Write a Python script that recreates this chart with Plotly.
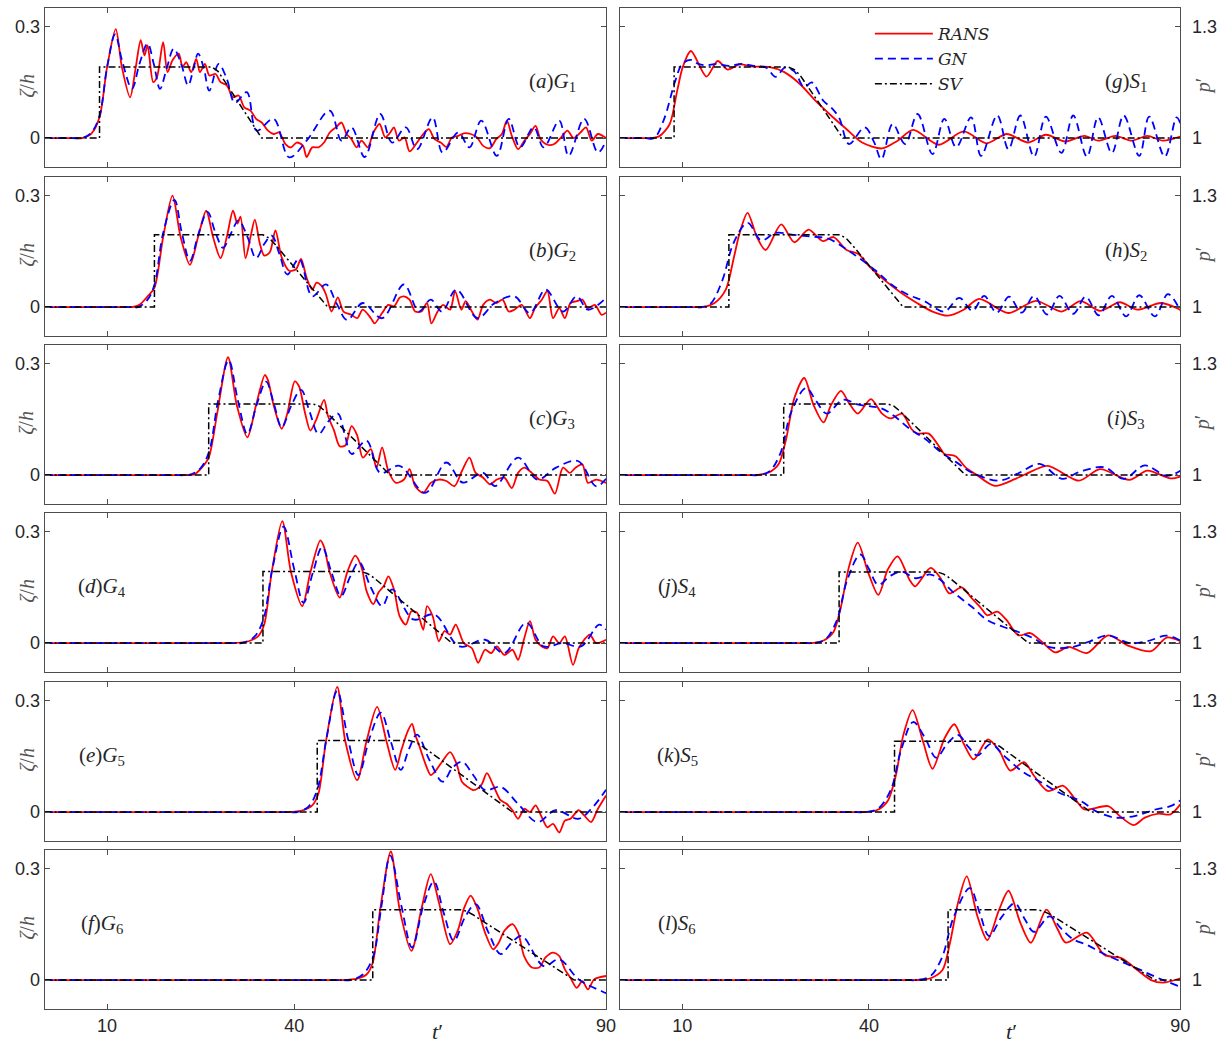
import plotly.graph_objects as go

# ---------------------------------------------------------------------------
# Time series (t', value).  G = free-surface elevation zeta/h, S = pressure p'
# ---------------------------------------------------------------------------

G1_RANS = [(0, 0), (4.5, 0), (6.0, 0.0), (7.5, 0.012), (8.8, 0.056), (10.0, 0.19), (11.4, 0.294), (12.4, 0.19),
           (13.7, 0.110), (14.6, 0.19), (15.4, 0.264), (16.0, 0.223), (16.5, 0.25), (17.4, 0.151),
           (18.0, 0.164), (19.0, 0.259), (19.7, 0.178), (20.5, 0.21), (21.5, 0.228), (22.1, 0.192),
           (22.7, 0.205), (23.5, 0.178), (24.3, 0.214), (24.9, 0.178), (25.7, 0.20), (26.4, 0.169),
           (27.4, 0.173), (28.2, 0.151), (29.2, 0.142), (30.2, 0.11), (31.1, 0.115), (32.0, 0.083),
           (33.0, 0.074), (33.9, 0.052), (34.8, 0.042), (35.8, 0.02), (36.7, 0.011), (37.6, 0.015),
           (38.6, -0.016), (39.5, -0.025), (40.4, -0.012), (41.4, -0.02), (42.0, -0.051), (42.9, -0.025),
           (43.9, -0.025), (44.8, -0.012), (45.7, 0.015), (46.7, 0.029), (47.6, 0.042), (48.4, 0.011),
           (49.2, -0.003), (50.0, -0.025), (50.8, -0.007), (51.8, -0.025), (52.7, 0.015), (53.7, 0.038),
           (54.6, 0.002), (55.4, 0.015), (56.0, 0.029), (56.8, -0.007), (57.7, 0.002), (58.5, -0.036),
           (59.7, -0.012), (60.7, 0.011), (61.6, 0.024), (62.5, -0.003), (63.5, -0.012), (64.4, -0.024),
           (65.3, 0.002), (66.3, 0.006), (67.2, 0.013), (68.3, 0.011), (69.3, 0.002), (70.3, -0.021),
           (71.4, -0.027), (72.4, -0.003), (73.3, 0.011), (74.1, 0.047), (74.9, 0.006), (75.9, -0.03),
           (76.9, -0.007), (77.8, 0.011), (78.7, 0.033), (79.5, -0.003), (80.6, -0.018), (81.7, -0.016),
           (82.8, 0.002), (83.8, 0.02), (84.8, 0.0), (85.9, 0.015), (86.8, 0.029), (87.7, -0.007),
           (88.7, 0.011), (90.0, 0.0)]
G1_GN = [(0, 0), (4.5, 0), (6.0, 0.0), (7.5, 0.015), (8.8, 0.06), (10.0, 0.19), (11.3, 0.28), (12.4, 0.21),
         (14.0, 0.133), (15.2, 0.2), (16.5, 0.255), (17.5, 0.2), (18.5, 0.133), (19.6, 0.19), (20.7, 0.241),
         (21.9, 0.2), (23.0, 0.142), (23.9, 0.19), (24.6, 0.228), (25.5, 0.19), (26.4, 0.128), (27.9, 0.20),
         (29.2, 0.16), (30.5, 0.095), (32.4, 0.124), (34.0, 0.02), (36.7, 0.052), (39.2, -0.052),
         (42.0, -0.007), (45.7, 0.074), (47.6, -0.007), (49.2, 0.029), (51.3, -0.051), (53.8, 0.065),
         (55.7, -0.012), (57.9, 0.029), (59.7, -0.03), (62.2, 0.056), (63.8, -0.039), (66.3, 0.015),
         (68.1, -0.025), (70.0, 0.047), (72.5, -0.048), (74.4, 0.052), (76.2, -0.025), (78.4, 0.029),
         (80.0, -0.025), (82.5, 0.047), (84.0, -0.048), (86.5, 0.052), (88.7, -0.039), (90.0, -0.007)]
G1_SV = [(0, 0), (8.8, 0), (8.8, 0.192), (26.8, 0.192), (27.8, 0.180), (28.8, 0.155), (34.8, 0), (90, 0)]

G2_RANS = [(0, 0), (12.5, 0), (14.0, 0), (15.2, 0.006), (16.5, 0.029), (17.6, 0.052), (19.0, 0.189), (20.5, 0.301),
           (21.8, 0.189), (23.3, 0.114), (24.6, 0.189), (25.9, 0.26), (27.0, 0.189), (28.2, 0.132),
           (29.2, 0.189), (30.2, 0.26), (30.9, 0.225), (31.4, 0.244), (32.2, 0.132), (33.0, 0.189),
           (33.7, 0.236), (34.5, 0.171), (35.2, 0.139), (36.1, 0.148), (37.0, 0.207), (38.0, 0.134),
           (39.2, 0.098), (40.3, 0.102), (41.1, 0.13), (42.0, 0.079), (42.9, 0.047), (43.6, 0.066),
           (44.4, 0.057), (45.1, 0.034), (46.0, -0.012), (47.0, 0.026), (47.9, -0.012), (49.2, -0.021),
           (50.1, -0.03), (51.0, -0.007), (52.3, -0.03), (52.9, -0.044), (54.1, -0.016), (55.1, 0.006),
           (56.0, 0.002), (56.9, 0.025), (57.6, 0.029), (58.5, 0.02), (59.4, -0.012), (60.4, -0.012),
           (61.3, 0.011), (62.0, -0.044), (63.0, -0.012), (63.9, 0.006), (65.0, -0.007), (65.8, 0.043),
           (66.8, -0.007), (67.5, 0.016), (68.5, -0.012), (69.4, -0.034), (70.3, 0.006), (71.4, 0.02),
           (72.4, 0.011), (73.4, 0.02), (74.4, -0.012), (75.3, -0.007), (76.5, 0.006), (77.8, -0.03),
           (78.6, -0.003), (79.7, 0.02), (80.6, 0.043), (81.5, -0.03), (82.5, -0.003), (83.4, -0.03),
           (84.3, 0.011), (85.3, 0.016), (86.2, 0.02), (87.1, -0.003), (88.2, 0.006), (89.3, -0.021),
           (90.0, -0.015)]
G2_GN = [(0, 0), (13.5, 0), (15.0, 0), (16.5, 0.02), (17.6, 0.06), (19.0, 0.2), (20.8, 0.289), (22.0, 0.2),
         (23.3, 0.125), (24.7, 0.2), (26.1, 0.257), (27.4, 0.2), (28.6, 0.16), (29.9, 0.2), (31.1, 0.234),
         (32.5, 0.19), (33.9, 0.132), (35.2, 0.17), (36.4, 0.193), (37.7, 0.14), (38.9, 0.088),
         (40.8, 0.13), (42.9, 0.029), (45.1, 0.061), (46.8, 0.01), (48.5, -0.035), (51.0, 0.011),
         (54.1, -0.03), (57.6, 0.061), (60.0, -0.012), (61.9, 0.02), (63.7, -0.012), (66.0, 0.047),
         (69.4, -0.03), (72.1, 0.01), (75.3, 0.029), (77.8, -0.016), (80.3, 0.047), (83.1, -0.012),
         (85.3, 0.029), (87.1, -0.007), (90.0, 0.025)]
G2_SV = [(0, 0), (17.6, 0), (17.6, 0.195), (35.0, 0.195), (36.0, 0.186), (37.0, 0.168), (45.4, 0), (90, 0)]

G3_RANS = [(0, 0), (20.6, 0), (22.1, 0), (24.0, 0.002), (25.2, 0.02), (26.3, 0.047), (27.7, 0.17), (29.4, 0.318),
           (30.8, 0.189), (32.5, 0.102), (33.9, 0.189), (35.3, 0.27), (35.8, 0.256), (36.7, 0.189),
           (38.0, 0.125), (38.9, 0.166), (40.1, 0.253), (40.8, 0.239), (41.7, 0.171), (42.6, 0.12),
           (43.6, 0.152), (44.8, 0.203), (45.4, 0.161), (46.4, 0.12), (47.3, 0.078), (48.2, 0.08),
           (49.2, 0.132), (50.1, 0.107), (51.0, 0.047), (52.3, 0.07), (53.2, 0.02), (54.1, 0.075),
           (55.1, 0.011), (56.3, -0.021), (57.6, -0.012), (58.5, 0.016), (59.4, -0.03), (60.7, -0.048),
           (61.9, -0.021), (63.2, -0.012), (64.4, -0.016), (65.7, -0.03), (66.9, 0.011), (68.1, 0.047),
           (69.1, 0.006), (70.3, -0.007), (71.4, -0.025), (72.5, -0.012), (73.7, -0.007), (74.9, -0.035),
           (75.9, 0.006), (76.9, 0.02), (78.1, 0.006), (79.3, -0.012), (80.6, -0.016), (81.8, -0.05),
           (83.1, 0.02), (84.2, 0.006), (85.1, 0.02), (86.2, 0.029), (87.1, -0.021), (88.4, -0.012),
           (90.0, -0.021)]
G3_GN = [(0, 0), (21.5, 0), (23.0, 0), (24.8, 0.015), (26.3, 0.06), (27.8, 0.2), (29.5, 0.31), (31.0, 0.2),
         (32.5, 0.111), (34.0, 0.19), (35.5, 0.252), (36.8, 0.19), (38.0, 0.129), (39.6, 0.19), (41.1, 0.23),
         (42.5, 0.17), (43.9, 0.111), (45.5, 0.145), (47.0, 0.166), (48.1, 0.11), (49.2, 0.057),
         (51.6, 0.093), (53.8, 0.006), (56.9, 0.025), (61.0, -0.048), (64.4, 0.034), (67.0, -0.02),
         (70.3, 0.006), (72.2, -0.03), (75.9, 0.047), (79.0, -0.012), (82.0, 0.02), (85.5, 0.038),
         (88.4, -0.03), (90.0, -0.01)]
G3_SV = [(0, 0), (26.3, 0), (26.3, 0.192), (43.0, 0.192), (44.0, 0.186), (45.0, 0.172), (55.4, 0), (90, 0)]

G4_RANS = [(0, 0), (28.7, 0), (30.2, 0), (32.7, 0.005), (34.2, 0.018), (35.2, 0.05), (36.4, 0.191), (38.1, 0.329),
           (39.5, 0.191), (41.3, 0.1), (42.6, 0.191), (44.2, 0.277), (44.8, 0.259), (45.7, 0.191),
           (47.3, 0.123), (48.5, 0.191), (49.8, 0.236), (50.8, 0.205), (51.6, 0.141), (52.7, 0.105),
           (53.5, 0.136), (54.4, 0.155), (55.1, 0.18), (56.0, 0.145), (56.9, 0.073), (57.9, 0.05),
           (58.8, 0.086), (59.7, 0.082), (60.7, 0.036), (61.3, 0.1), (62.2, 0.073), (63.2, 0.005),
           (64.1, 0.032), (65.0, 0.023), (65.9, 0.05), (67.2, 0.0), (68.5, -0.014), (69.5, -0.053),
           (70.6, -0.018), (71.6, -0.027), (72.5, -0.009), (73.7, -0.032), (75.0, -0.018), (75.9, -0.045),
           (76.9, 0.014), (77.8, 0.059), (78.7, 0.009), (79.7, -0.009), (80.6, -0.014), (81.5, 0.018),
           (82.5, 0.0), (83.4, 0.018), (84.7, -0.059), (85.6, -0.014), (86.5, 0.009), (87.4, 0.023),
           (88.4, 0.0), (90.0, 0.009)]
G4_GN = [(0, 0), (30.0, 0), (31.5, 0), (33.5, 0.015), (35.0, 0.06), (36.5, 0.2), (38.3, 0.314), (40.0, 0.2),
         (41.5, 0.109), (43.0, 0.19), (44.5, 0.259), (46.0, 0.19), (47.5, 0.127), (49.0, 0.18), (50.4, 0.218),
         (52.3, 0.15), (54.1, 0.1), (55.7, 0.145), (59.1, 0.064), (62.5, 0.077), (66.5, -0.009),
         (70.6, 0.009), (73.7, -0.027), (77.2, 0.055), (80.0, -0.009), (83.0, 0.0), (86.0, -0.009),
         (88.9, 0.05), (90.0, 0.036)]
G4_SV = [(0, 0), (35.0, 0), (35.0, 0.193), (50.8, 0.193), (51.8, 0.187), (52.8, 0.176), (65.3, 0), (90, 0)]

G5_RANS = [(0, 0), (37.4, 0), (38.9, 0), (41.4, 0.005), (42.9, 0.018), (43.9, 0.05), (45.1, 0.191), (46.9, 0.338),
           (48.2, 0.191), (50.1, 0.086), (51.6, 0.191), (53.3, 0.284), (54.8, 0.191), (56.2, 0.114),
           (57.2, 0.168), (58.2, 0.218), (58.9, 0.238), (59.4, 0.209), (60.0, 0.182), (61.0, 0.132),
           (61.9, 0.1), (62.8, 0.114), (63.8, 0.138), (65.0, 0.162), (66.0, 0.132), (66.9, 0.082),
           (67.8, 0.068), (68.8, 0.059), (70.0, 0.073), (70.9, 0.105), (71.9, 0.073), (73.1, 0.032),
           (74.0, 0.023), (75.0, 0.005), (75.9, -0.018), (76.9, 0.009), (77.8, 0.0), (78.7, 0.018),
           (79.7, -0.014), (80.6, -0.041), (81.5, -0.032), (82.5, -0.055), (83.4, -0.023), (84.3, -0.018),
           (85.6, 0.005), (86.5, -0.009), (87.6, -0.027), (88.7, 0.009), (90.0, 0.045)]
G5_GN = [(0, 0), (39.0, 0), (40.5, 0), (42.3, 0.015), (43.7, 0.06), (45.2, 0.2), (46.9, 0.327), (48.6, 0.2),
         (50.3, 0.1), (52.1, 0.2), (53.9, 0.268), (55.5, 0.19), (57.1, 0.114), (58.4, 0.17), (59.7, 0.209),
         (61.7, 0.14), (63.8, 0.082), (65.4, 0.12), (66.9, 0.136), (68.7, 0.1), (70.6, 0.059), (73.1, 0.068),
         (76.0, 0.02), (79.0, -0.027), (81.9, 0.005), (85.6, -0.018), (87.7, 0.01), (90.0, 0.06)]
G5_SV = [(0, 0), (43.7, 0), (43.7, 0.193), (58.5, 0.193), (59.5, 0.188), (60.5, 0.178), (75.0, 0), (90, 0)]

G6_RANS = [(0, 0), (46.1, 0), (47.6, 0), (50.1, 0.004), (51.6, 0.015), (52.6, 0.047), (53.8, 0.192), (55.5, 0.347),
           (56.9, 0.192), (58.8, 0.079), (60.4, 0.192), (61.9, 0.286), (63.2, 0.21), (65.0, 0.097),
           (66.3, 0.137), (67.2, 0.192), (68.3, 0.228), (69.4, 0.192), (70.6, 0.128), (71.9, 0.083),
           (72.8, 0.101), (73.7, 0.133), (75.0, 0.151), (75.9, 0.128), (76.9, 0.063), (78.1, 0.034),
           (79.3, 0.034), (80.3, 0.061), (81.5, 0.074), (82.5, 0.065), (83.4, 0.029), (84.3, 0.006),
           (85.3, -0.021), (86.2, -0.003), (87.1, -0.025), (88.1, 0.002), (90.0, 0.011)]
G6_GN = [(0, 0), (47.5, 0), (49.0, 0), (51.0, 0.015), (52.6, 0.06), (54.0, 0.2), (55.4, 0.336), (57.2, 0.2),
         (58.9, 0.088), (60.7, 0.2), (62.4, 0.266), (64.0, 0.18), (65.6, 0.106), (67.4, 0.17), (69.1, 0.205),
         (71.1, 0.13), (73.1, 0.07), (74.8, 0.1), (76.5, 0.119), (80.0, 0.038), (82.5, 0.056),
         (85.6, 0.002), (89.3, -0.03), (90.0, -0.035)]
G6_SV = [(0, 0), (52.6, 0), (52.6, 0.19), (66.6, 0.19), (67.6, 0.186), (68.6, 0.177), (84.9, 0), (90, 0)]

S1_RANS = [(0, 1), (3.6, 1), (5.1, 1), (6.4, 1.006), (8.0, 1.038), (9.2, 1.128), (10.1, 1.192), (11.4, 1.235),
           (13.9, 1.166), (15.7, 1.208), (17.3, 1.185), (19.2, 1.199), (21.4, 1.193), (23.9, 1.192),
           (26.4, 1.178), (28.9, 1.146), (31.4, 1.101), (33.9, 1.061), (36.4, 1.024), (38.9, 0.988),
           (42.1, 0.972), (44.6, 0.993), (47.1, 1.022), (51.2, 0.982), (55.2, 1.018), (58.9, 0.986),
           (62.1, 1.011), (65.6, 0.988), (68.4, 1.009), (71.5, 0.991), (74.6, 1.006), (76.8, 0.993),
           (79.6, 1.006), (82.2, 0.993), (84.7, 1.006), (87.2, 0.993), (90.0, 1.004)]
S1_GN = [(0, 1), (4.0, 1), (5.5, 1), (7.0, 1.047), (8.9, 1.155), (10.0, 1.2), (11.4, 1.211), (12.6, 1.2),
         (13.9, 1.196), (15.5, 1.2), (17.5, 1.195), (19.5, 1.2), (21.5, 1.195), (23.5, 1.19), (25.0, 1.165),
         (26.5, 1.19), (28.0, 1.18), (29.6, 1.137), (30.8, 1.15), (32.7, 1.10), (33.9, 1.083), (35.2, 1.055),
         (36.8, 0.984), (39.3, 1.029), (40.8, 0.99), (42.0, 0.943), (43.8, 1.038), (45.8, 0.984),
         (47.8, 1.065), (50.2, 0.957), (52.1, 1.052), (54.0, 0.975), (56.4, 1.056), (58.0, 0.952),
         (60.6, 1.061), (62.4, 0.97), (64.3, 1.061), (66.5, 0.95), (68.4, 1.058), (70.9, 0.96),
         (72.8, 1.061), (75.0, 0.95), (76.8, 1.056), (79.0, 0.96), (80.9, 1.061), (83.4, 0.952),
         (85.0, 1.058), (87.5, 0.95), (89.4, 1.056), (90.0, 1.04)]
S1_SV = [(0, 1), (8.7, 1), (8.7, 1.192), (27.0, 1.192), (28.0, 1.185), (29.0, 1.168), (35.8, 1), (90, 1)]

S2_RANS = [(0, 1), (11.8, 1), (13.3, 1), (15.2, 1.011), (17.0, 1.047), (18.3, 1.134), (19.2, 1.198), (20.5, 1.254),
           (22.0, 1.189), (23.4, 1.154), (25.9, 1.223), (28.0, 1.175), (30.3, 1.209), (32.6, 1.178),
           (34.3, 1.189), (36.4, 1.154), (38.3, 1.143), (40.2, 1.107), (42.7, 1.07), (45.2, 1.038),
           (47.7, 1.011), (50.2, 0.988), (52.7, 0.977), (55.2, 0.993), (57.7, 1.022), (62.4, 0.984),
           (66.8, 1.017), (70.9, 0.988), (74.0, 1.016), (77.1, 0.99), (80.3, 1.013), (83.1, 0.993),
           (86.9, 1.011), (90.0, 0.993)]
S2_GN = [(0, 1), (11.5, 1), (13.0, 1), (14.5, 1.008), (16.4, 1.07), (18.3, 1.175), (20.5, 1.227), (22.7, 1.18),
         (25.0, 1.2), (27.9, 1.195), (30.9, 1.19), (33.4, 1.185), (36.9, 1.15), (41.1, 1.098), (43.6, 1.061),
         (46.2, 1.034), (48.9, 1.016), (52.1, 0.988), (54.5, 1.025), (56.6, 0.99), (58.5, 1.03), (60.5, 0.985),
         (62.5, 1.028), (64.5, 0.985), (66.5, 1.03), (68.6, 0.98), (70.6, 1.03), (72.8, 0.982), (74.8, 1.028),
         (76.9, 0.978), (79.0, 1.03), (81.3, 0.975), (83.4, 1.032), (85.9, 0.975), (88.0, 1.035), (90.0, 0.99)]
S2_SV = [(0, 1), (17.5, 1), (17.5, 1.195), (35.3, 1.195), (36.3, 1.186), (37.3, 1.168), (45.5, 1), (90, 1)]

S3_RANS = [(0, 1), (20.5, 1), (22.0, 1), (23.9, 1.007), (25.5, 1.03), (26.7, 1.098), (28.0, 1.207), (29.6, 1.262),
           (31.1, 1.189), (32.7, 1.142), (33.9, 1.189), (35.5, 1.227), (36.8, 1.194), (38.2, 1.166),
           (40.3, 1.205), (42.1, 1.166), (43.5, 1.153), (45.3, 1.166), (46.8, 1.125), (47.7, 1.112),
           (49.6, 1.112), (51.5, 1.071), (52.1, 1.057), (53.9, 1.051), (55.5, 1.021), (57.1, 1.003),
           (60.2, 0.971), (63.4, 0.989), (65.2, 1.003), (68.7, 1.025), (73.7, 0.985), (77.1, 1.016),
           (81.8, 0.987), (84.7, 1.012), (88.4, 0.991), (90.0, 0.996)]
S3_GN = [(0, 1), (20.5, 1), (22.0, 1), (24.0, 1.01), (25.8, 1.06), (27.5, 1.17), (29.9, 1.235), (31.5, 1.2),
         (33.2, 1.166), (35.8, 1.203), (38.3, 1.19), (40.5, 1.185), (42.0, 1.18), (44.0, 1.16), (46.5, 1.125),
         (49.0, 1.098), (51.5, 1.062), (54.0, 1.035), (56.5, 1.007), (60.9, 0.985), (64.0, 1.005),
         (67.4, 1.03), (71.0, 0.99), (74.0, 1.01), (77.8, 1.021), (80.9, 0.99), (84.3, 1.026), (87.8, 0.998),
         (90.0, 1.012)]
S3_SV = [(0, 1), (26.3, 1), (26.3, 1.192), (43.0, 1.192), (44.0, 1.186), (45.0, 1.172), (55.5, 1), (90, 1)]

S4_RANS = [(0, 1), (29.3, 1), (30.8, 1), (32.7, 1.007), (34.3, 1.03), (35.5, 1.098), (36.8, 1.207), (38.2, 1.271),
           (39.9, 1.189), (41.5, 1.13), (43.0, 1.198), (44.6, 1.234), (46.5, 1.171), (47.4, 1.153),
           (49.9, 1.203), (51.5, 1.175), (52.9, 1.134), (54.9, 1.15), (56.5, 1.121), (58.0, 1.094),
           (59.0, 1.075), (60.6, 1.085), (62.1, 1.062), (64.0, 1.021), (65.9, 1.027), (67.8, 1.003),
           (69.9, 0.975), (72.1, 0.99), (75.0, 0.973), (78.4, 1.021), (81.5, 0.994), (85.3, 0.978),
           (87.8, 1.015), (90.0, 1.005)]
S4_GN = [(0, 1), (29.5, 1), (31.0, 1), (33.0, 1.01), (34.8, 1.06), (36.5, 1.17), (38.6, 1.239), (40.0, 1.2),
         (41.5, 1.157), (43.3, 1.18), (45.2, 1.193), (47.5, 1.175), (49.9, 1.185), (51.5, 1.17),
         (53.4, 1.139), (56.5, 1.098), (59.0, 1.062), (61.5, 1.044), (64.0, 1.03), (66.5, 1.012),
         (69.0, 0.989), (72.8, 0.99), (75.5, 1.005), (78.4, 1.021), (81.8, 1.0), (84.7, 1.005),
         (87.8, 1.02), (90.0, 1.007)]
S4_SV = [(0, 1), (35.2, 1), (35.2, 1.192), (51.0, 1.192), (52.0, 1.186), (53.0, 1.175), (65.6, 1), (90, 1)]

S5_RANS = [(0, 1), (38.1, 1), (39.6, 1), (41.5, 1.007), (43.0, 1.03), (44.3, 1.098), (45.5, 1.207), (47.0, 1.275),
           (48.7, 1.189), (50.2, 1.117), (52.1, 1.198), (53.7, 1.237), (55.2, 1.185), (56.8, 1.142),
           (59.1, 1.196), (60.9, 1.166), (62.7, 1.112), (64.9, 1.135), (66.5, 1.098), (68.7, 1.057),
           (71.2, 1.071), (73.1, 1.035), (74.6, 1.007), (78.4, 1.016), (80.3, 0.989), (82.5, 0.965),
           (84.3, 0.985), (86.5, 0.996), (88.4, 0.994), (90.0, 1.021)]
S5_GN = [(0, 1), (38.0, 1), (39.5, 1), (41.5, 1.01), (43.5, 1.06), (45.2, 1.17), (47.1, 1.243), (49.0, 1.2),
         (50.8, 1.147), (52.6, 1.185), (54.3, 1.208), (56.0, 1.175), (57.4, 1.153), (59.6, 1.184),
         (61.5, 1.155), (64.6, 1.11), (67.7, 1.08), (70.8, 1.05), (74.0, 1.03), (76.5, 1.002), (79.6, 0.985),
         (82.8, 0.99), (86.0, 1.007), (88.4, 1.016), (90.0, 1.031)]
S5_SV = [(0, 1), (44.1, 1), (44.1, 1.191), (59.0, 1.191), (60.0, 1.186), (61.0, 1.177), (75.6, 1), (90, 1)]

S6_RANS = [(0, 1), (46.2, 1), (47.7, 1), (49.9, 1.005), (51.8, 1.027), (53.0, 1.1), (54.3, 1.209), (55.7, 1.28),
           (57.4, 1.173), (59.0, 1.108), (60.9, 1.19), (62.4, 1.241), (64.3, 1.155), (66.0, 1.101),
           (68.5, 1.19), (70.3, 1.137), (71.6, 1.101), (75.0, 1.128), (77.8, 1.068), (80.6, 1.059),
           (83.1, 1.027), (85.3, 1.0), (87.2, 0.993), (90.0, 1.005)]
S6_GN = [(0, 1), (46.0, 1), (47.5, 1), (49.8, 1.01), (51.7, 1.06), (53.6, 1.17), (56.2, 1.248), (57.8, 1.18),
         (59.3, 1.119), (61.3, 1.17), (63.4, 1.207), (65.0, 1.165), (66.5, 1.13), (69.0, 1.172), (70.8, 1.14),
         (72.8, 1.11), (75.0, 1.095), (77.2, 1.075), (80.9, 1.047), (83.4, 1.029), (86.5, 1.005),
         (90.0, 0.982)]
S6_SV = [(0, 1), (52.7, 1), (52.7, 1.19), (67.0, 1.19), (68.0, 1.186), (69.0, 1.178), (85.9, 1), (90, 1)]

X_TICKS = [10, 40, 90]
G_TICKS = [0, 0.3]
S_TICKS = [1, 1.3]

# gauge name, panel letter, series
LEFT = [("G1", "a", G1_RANS, G1_GN, G1_SV), ("G2", "b", G2_RANS, G2_GN, G2_SV),
        ("G3", "c", G3_RANS, G3_GN, G3_SV), ("G4", "d", G4_RANS, G4_GN, G4_SV),
        ("G5", "e", G5_RANS, G5_GN, G5_SV), ("G6", "f", G6_RANS, G6_GN, G6_SV)]
RIGHT = [("S1", "g", S1_RANS, S1_GN, S1_SV), ("S2", "h", S2_RANS, S2_GN, S2_SV),
         ("S3", "i", S3_RANS, S3_GN, S3_SV), ("S4", "j", S4_RANS, S4_GN, S4_SV),
         ("S5", "k", S5_RANS, S5_GN, S5_SV), ("S6", "l", S6_RANS, S6_GN, S6_SV)]

# ---------------------------------------------------------------------------
W, H = 1232, 1046
COL_X = [(45, 611), (625, 1190)]
ROW_TOP = [8, 177, 345, 513, 682, 850]
PANEL_H = 159

TICK_FONT = dict(family="Liberation Sans, Arial, sans-serif", size=18, color="#262626")
SERIF = "Liberation Serif, Times New Roman, serif"
AX_COLOR = "#4d4d4d"

RANS_STYLE = dict(color="#ff0000", width=1.8, smoothing=0.8)
GN_STYLE = dict(color="#0000ff", width=1.8, dash="8px,5px", smoothing=1.0)
SV_STYLE = dict(color="#000000", width=1.5, dash="7px,3px,2px,3px")

fig = go.Figure()
annotations = []


def unzip(pairs):
    return [p[0] for p in pairs], [p[1] for p in pairs]


def px_x(x):
    return x / W


def px_y(y):
    return 1 - y / H


ax_index = 0
for col, panels in enumerate([LEFT, RIGHT]):
    for row, (name, letter, rans, gn, sv) in enumerate(panels):
        ax_index += 1
        xa = "x" if ax_index == 1 else f"x{ax_index}"
        ya = "y" if ax_index == 1 else f"y{ax_index}"
        show_leg = (col == 1 and row == 0)

        t, v = unzip(rans)
        fig.add_trace(go.Scatter(x=t, y=v, mode="lines", name="<i>RANS</i>", line=RANS_STYLE,
                                 line_shape="spline", xaxis=xa, yaxis=ya, showlegend=show_leg,
                                 legendgroup="rans"))
        t, v = unzip(gn)
        fig.add_trace(go.Scatter(x=t, y=v, mode="lines", name="<i>GN</i>", line=GN_STYLE,
                                 line_shape="spline", xaxis=xa, yaxis=ya, showlegend=show_leg,
                                 legendgroup="gn"))
        t, v = unzip(sv)
        fig.add_trace(go.Scatter(x=t, y=v, mode="lines", name="<i>SV</i>", line=SV_STYLE,
                                 xaxis=xa, yaxis=ya, showlegend=show_leg, legendgroup="sv"))

        x0, x1 = COL_X[col]
        top = ROW_TOP[row]
        xkey = "xaxis" if ax_index == 1 else f"xaxis{ax_index}"
        ykey = "yaxis" if ax_index == 1 else f"yaxis{ax_index}"
        fig.update_layout(**{
            xkey: dict(domain=[px_x(x0), px_x(x1)], anchor=ya, range=[0, 90],
                       tickvals=X_TICKS, ticktext=[str(v) for v in X_TICKS],
                       showticklabels=(row == 5), ticks="inside", ticklen=5, tickcolor=AX_COLOR,
                       showline=True, linecolor=AX_COLOR, linewidth=1, mirror="ticks",
                       showgrid=False, zeroline=False, tickfont=TICK_FONT),
            ykey: dict(domain=[px_y(top + PANEL_H), px_y(top)], anchor=xa,
                       range=[-0.078, 0.351] if col == 0 else [0.922, 1.351],
                       tickvals=G_TICKS if col == 0 else S_TICKS,
                       ticktext=["0", "0.3"] if col == 0 else ["1", "1.3"],
                       side="left" if col == 0 else "right",
                       ticklabelstandoff=0 if col == 0 else 7,
                       ticks="inside", ticklen=5, tickcolor=AX_COLOR,
                       showline=True, linecolor=AX_COLOR, linewidth=1, mirror="ticks",
                       showgrid=False, zeroline=False, tickfont=TICK_FONT),
        })

        # panel label and vertical axis title
        if col == 0:
            lx = 557 if row < 3 else 103
            ytxt = "<i>ζ</i>/<i>h</i>"
            yx = 27
        else:
            lx = 1135 if row < 3 else 683
            ytxt = "<i>p</i>′"
            yx = 1213
        annotations.append(dict(x=px_x(lx), y=px_y(top + 74), xref="paper", yref="paper",
                                text=f"(<i>{letter}</i>)<i>{name[0]}</i><sub>{name[1]}</sub>",
                                showarrow=False, font=dict(family=SERIF, size=21, color="#262626"),
                                xanchor="center", yanchor="middle"))
        annotations.append(dict(x=px_x(yx), y=px_y(top + 78), xref="paper", yref="paper",
                                text=ytxt, textangle=-90, showarrow=False,
                                font=dict(family=SERIF, size=20, color="#555555"),
                                xanchor="center", yanchor="middle"))

for cx in (441, 1020):
    annotations.append(dict(x=px_x(cx), y=px_y(1031), xref="paper", yref="paper",
                            text="<i>t</i>′", showarrow=False,
                            font=dict(family=SERIF, size=22, color="#262626"),
                            xanchor="center", yanchor="middle"))

fig.update_layout(
    width=W, height=H, autosize=False,
    margin=dict(l=0, r=0, t=0, b=0),
    paper_bgcolor="white", plot_bgcolor="white",
    annotations=annotations,
    showlegend=True,
    legend=dict(x=px_x(877), y=px_y(16), xanchor="left", yanchor="top",
                bgcolor="rgba(0,0,0,0)", borderwidth=0, itemwidth=58,
                font=dict(family="DejaVu Serif, serif", size=17, color="#262626"),
                tracegroupgap=0),
)

fig.write_html("out.html")
